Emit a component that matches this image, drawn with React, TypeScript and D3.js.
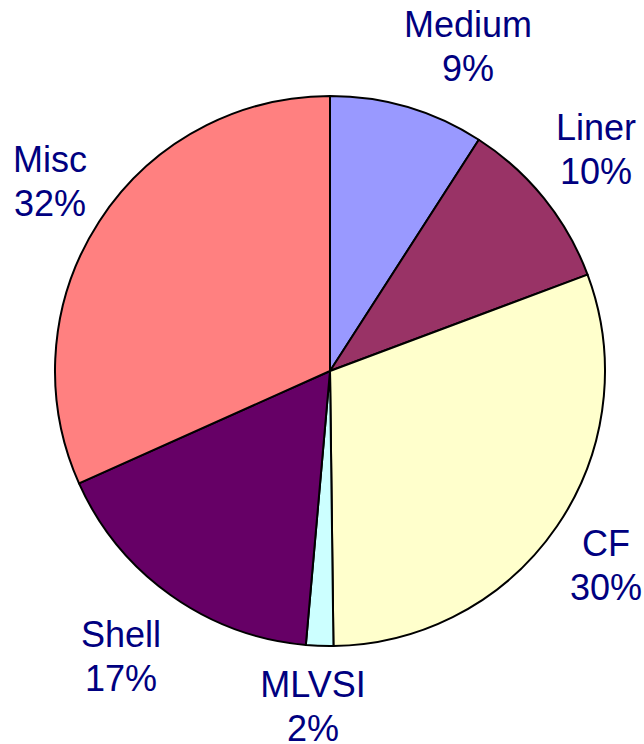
import React from "react";
import * as d3 from "d3";

const categories = ["Medium", "Liner", "CF", "MLVSI", "Shell", "Misc"];
const values = [9.1, 10.2, 30.5, 1.6, 16.9, 31.7];
const percentLabels = ["9%", "10%", "30%", "2%", "17%", "32%"];
const colors = ["#9999FF", "#993366", "#FFFFCC", "#CCFFFF", "#660066", "#FF8080"];
const labelPositions: [number, number][] = [
  [468, 37],
  [596, 140],
  [606, 556],
  [313, 697],
  [121, 647],
  [50, 172],
];

const W = 644;
const H = 744;
const cx = 330;
const cy = 371;
const R = 275;

export default function App() {
  const pie = d3.pie<number>().value((d) => d).sort(null)(values);
  const arc = d3.arc<d3.PieArcDatum<number>>().innerRadius(0).outerRadius(R);
  return (
    <svg
      width={W}
      height={H}
      style={{ position: "absolute", left: 0, top: 0, background: "#fff" }}
    >
      <g transform={`translate(${cx},${cy})`}>
        {pie.map((p, i) => (
          <path key={i} d={arc(p) || ""} fill={colors[i]} stroke="#000" strokeWidth={2} strokeLinejoin="round" />
        ))}
      </g>
      {categories.map((c, i) => (
        <text
          key={c}
          x={labelPositions[i][0]}
          y={labelPositions[i][1]}
          textAnchor="middle"
          fill="#000080"
          fontFamily="'Liberation Sans', Arial, sans-serif"
          fontSize={36}
        >
          <tspan x={labelPositions[i][0]}>{c}</tspan>
          <tspan x={labelPositions[i][0]} dy={44}>{percentLabels[i]}</tspan>
        </text>
      ))}
    </svg>
  );
}
